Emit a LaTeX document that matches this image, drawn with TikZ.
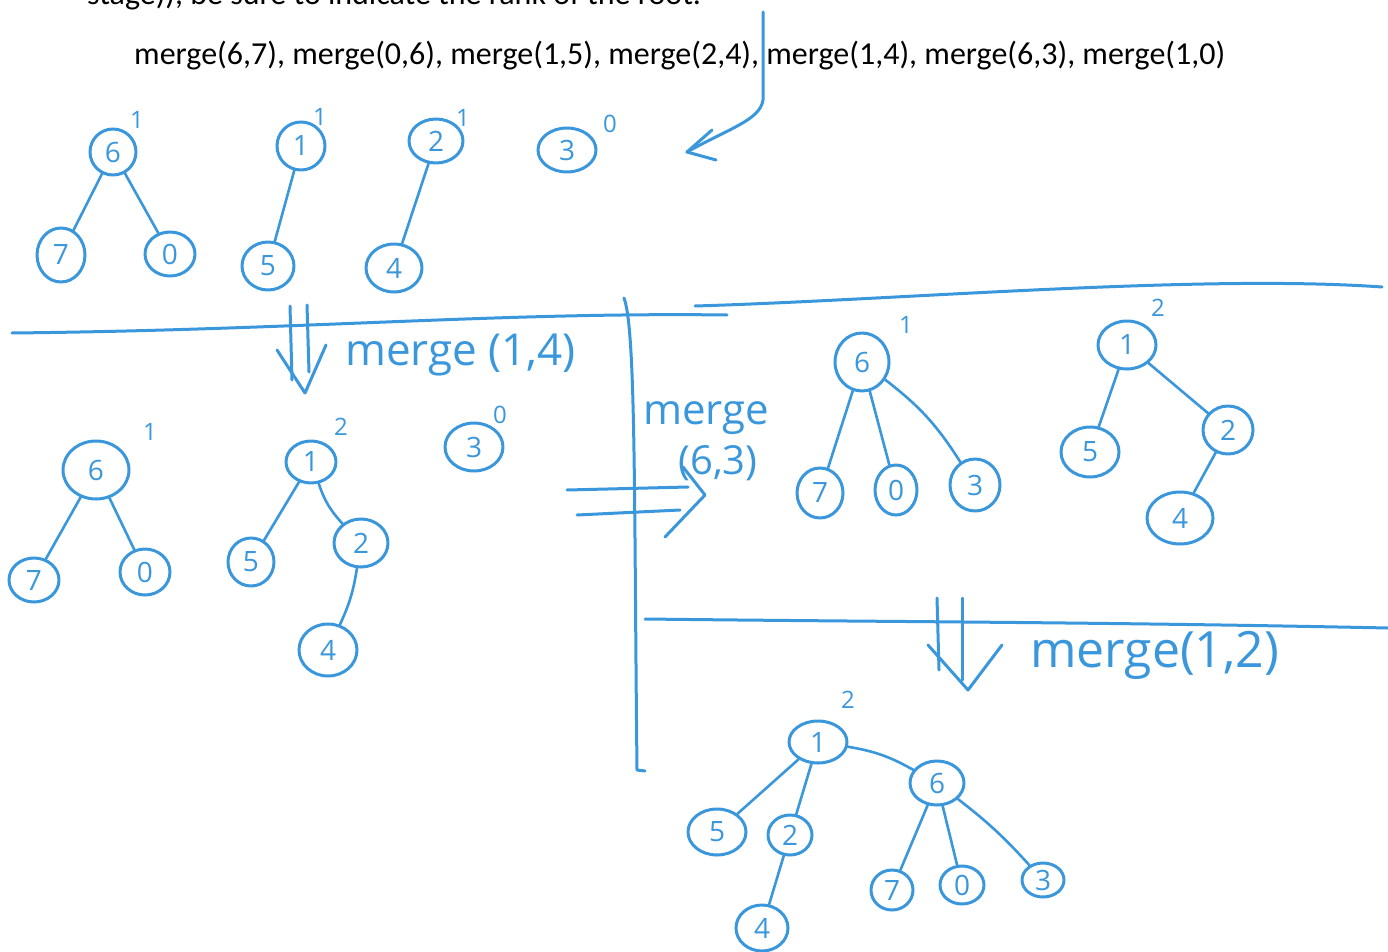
\documentclass[tikz,border=0pt]{standalone}
\usepackage{fontspec}
\setmainfont{Carlito}
\newfontfamily\hw{Open Sans}
\usetikzlibrary{shapes.geometric}
\definecolor{ink}{HTML}{3A97DC}
\tikzset{
  pen/.style={draw=ink, line width=3pt, line cap=round, line join=round},
  nd/.style 2 args={pen, ellipse, inner sep=0pt, minimum width=#1pt, minimum height=#2pt, text=ink, font=\hw\fontsize{28}{30}\selectfont},
  edge/.style={draw=ink, line width=2.6pt, line cap=round},
  rank/.style={text=ink, inner sep=0pt, font=\hw\fontsize{24}{26}\selectfont},
  hand/.style={text=ink, inner sep=0pt, font=\hw\fontsize{44}{46}\selectfont},
  typed/.style={anchor=base west, inner sep=0pt, font=\fontsize{32}{38}\selectfont}
}
\begin{document}
\begin{tikzpicture}[x=1pt,y=-1pt]
\useasboundingbox (0,0) rectangle (1388,952);
\clip (0,0) rectangle (1388,952);
\fill[white] (0,0) rectangle (1388,952);

% typed text
\node[typed] (cut) at (87,5) {stage)), be sure to indicate the rank of the root.};
\node[typed] (ops) at (134,65) {merge(6,7), merge(0,6), merge(1,5), merge(2,4), merge(1,4), merge(6,3), merge(1,0)};

% pointer arrow from the text
\coordinate (p0) at (763,12);
\coordinate (p1) at (763,100);
\coordinate (p2) at (687,152);
\coordinate (h1) at (712,130);
\coordinate (h2) at (716,160);
\draw[pen] (p0) -- (p1) .. controls (760,120) and (730,128) .. (p2);
\draw[pen] (h1) -- (p2) -- (h2);

% stage 1
\node[nd={46}{46}] (a6) at (113,152) {6};
\node[nd={48}{54}] (a7) at (61,255) {7};
\node[nd={50}{44}] (a0) at (170,254) {0};
\node[nd={48}{48}] (a1) at (301,146) {1};
\node[nd={52}{48}] (a5) at (268,266) {5};
\node[nd={54}{44}] (a2) at (436,141) {2};
\node[nd={56}{48}] (a4) at (394,268) {4};
\node[nd={58}{44}] (a3) at (567,150) {3};
\node[rank] (ra6) at (137,120) {1};
\node[rank] (ra1) at (320,117) {1};
\node[rank] (ra2) at (463,118) {1};
\node[rank] (ra3) at (610,124) {0};
\draw[edge] (a6) -- (a7);
\draw[edge] (a6) -- (a0);
\draw[edge] (a1) -- (a5);
\draw[edge] (a2) -- (a4);

% separators
\coordinate (l1a) at (12,333);
\coordinate (l1b) at (727,315);
\draw[pen] (l1a) .. controls (300,330) and (500,312) .. (l1b);
\coordinate (l2a) at (695,306);
\coordinate (l2b) at (1382,287);
\draw[pen] (l2a) .. controls (900,300) and (1200,274) .. (l2b);
\coordinate (va) at (624,298);
\coordinate (vb) at (637,770);
\coordinate (vc) at (645,771);
\draw[pen] (va) .. controls (636,330) and (634,500) .. (vb) -- (vc);
\coordinate (l3a) at (645,619);
\coordinate (l3b) at (1388,628);
\draw[pen] (l3a) .. controls (900,622) and (1100,622) .. (l3b);

% merge(1,4) double arrow
\coordinate (d1a) at (290,306); \coordinate (d1b) at (292,380);
\coordinate (d1c) at (307,305); \coordinate (d1d) at (309,372);
\coordinate (d1e) at (277,350); \coordinate (d1f) at (305,393); \coordinate (d1g) at (326,345);
\draw[pen] (d1a) -- (d1b);
\draw[pen] (d1c) -- (d1d);
\draw[pen] (d1e) -- (d1f) -- (d1g);
\node[hand, anchor=west] (m14) at (345,355) {merge (1,4)};

% stage 2
\node[nd={66}{58}] (b6) at (96,470) {6};
\node[nd={50}{44}] (b7) at (34,580) {7};
\node[nd={50}{46}] (b0) at (145,572) {0};
\node[nd={50}{42}] (b1) at (311,462) {1};
\node[nd={46}{48}] (b5) at (251,562) {5};
\node[nd={54}{48}] (b2) at (361,543) {2};
\node[nd={58}{52}] (b4) at (328,650) {4};
\node[nd={58}{48}] (b3) at (474,447) {3};
\node[rank] (rb6) at (150,432) {1};
\node[rank] (rb1) at (341,427) {2};
\node[rank] (rb3) at (500,415) {0};
\draw[edge] (b6) -- (b7);
\draw[edge] (b6) -- (b0);
\draw[edge] (b1) -- (b5);
\draw[edge] (b1) to[bend right=12] (b2);
\draw[edge] (b2) to[bend left=8] (b4);

% merge(6,3) arrow
\coordinate (r1a) at (567,490); \coordinate (r1b) at (688,487);
\coordinate (r2a) at (577,515); \coordinate (r2b) at (680,510);
\coordinate (rh1) at (683,467); \coordinate (rh2) at (705,495); \coordinate (rh3) at (665,537);
\draw[pen] (r1a) -- (r1b);
\draw[pen] (r2a) -- (r2b);
\draw[pen] (rh1) -- (rh2) -- (rh3);
\node[hand, font=\hw\fontsize{42}{44}\selectfont] (m63a) at (706,418) {merge};
\node[hand, font=\hw\fontsize{40}{42}\selectfont] (m63b) at (718,463) {(6,3)};

% stage 3
\node[nd={54}{58}] (c6) at (862,362) {6};
\node[nd={46}{50}] (c7) at (820,493) {7};
\node[nd={42}{50}] (c0) at (896,490) {0};
\node[nd={50}{52}] (c3) at (975,485) {3};
\node[nd={58}{48}] (c1) at (1127,345) {1};
\node[nd={58}{50}] (c5) at (1090,452) {5};
\node[nd={50}{48}] (c2) at (1228,430) {2};
\node[nd={66}{52}] (c4) at (1180,518) {4};
\node[rank] (rc6) at (906,325) {1};
\node[rank] (rc1) at (1158,308) {2};
\draw[edge] (c6) -- (c7);
\draw[edge] (c6) -- (c0);
\draw[edge] (c6) to[bend left=10] (c3);
\draw[edge] (c1) -- (c5);
\draw[edge] (c1) -- (c2);
\draw[edge] (c2) -- (c4);

% merge(1,2) double arrow
\coordinate (d2a) at (937,598); \coordinate (d2b) at (939,670);
\coordinate (d2c) at (962,598); \coordinate (d2d) at (962,680);
\coordinate (d2e) at (928,645); \coordinate (d2f) at (968,690); \coordinate (d2g) at (1002,645);
\draw[pen] (d2a) -- (d2b);
\draw[pen] (d2c) -- (d2d);
\draw[pen] (d2e) -- (d2f) -- (d2g);
\node[hand, anchor=west, font=\hw\fontsize{50}{52}\selectfont] (m12) at (1030,655) {merge(1,2)};

% stage 4
\node[nd={58}{42}] (e1) at (818,742) {1};
\node[nd={54}{44}] (e6) at (937,783) {6};
\node[nd={58}{46}] (e5) at (717,832) {5};
\node[nd={44}{40}] (e2) at (790,835) {2};
\node[nd={52}{46}] (e4) at (762,928) {4};
\node[nd={42}{40}] (e7) at (892,890) {7};
\node[nd={44}{38}] (e0) at (962,885) {0};
\node[nd={42}{34}] (e3) at (1043,880) {3};
\node[rank] (re1) at (848,700) {2};
\draw[edge] (e1) -- (e5);
\draw[edge] (e1) -- (e2);
\draw[edge] (e1) to[bend left=10] (e6);
\draw[edge] (e2) -- (e4);
\draw[edge] (e6) -- (e7);
\draw[edge] (e6) -- (e0);
\draw[edge] (e6) to[bend left=5] (e3);
\end{tikzpicture}
\end{document}
